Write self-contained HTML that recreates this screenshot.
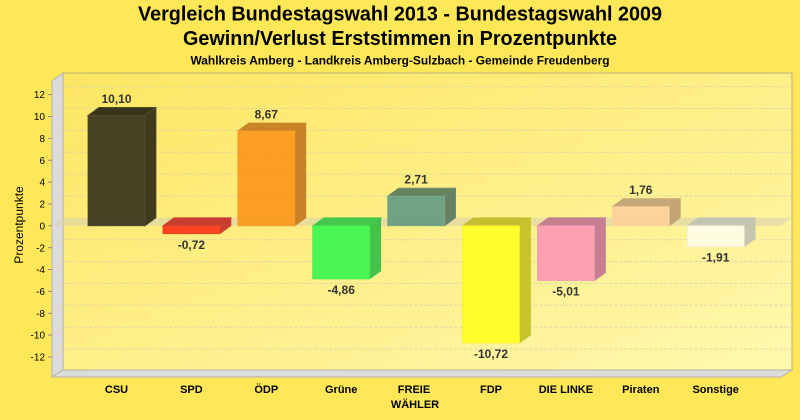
<!DOCTYPE html>
<html><head><meta charset="utf-8"><style>
html,body{margin:0;padding:0;background:#FFE858;}
svg{display:block;font-family:"Liberation Sans",Arial,sans-serif;}
</style></head><body>
<svg width="800" height="420" viewBox="0 0 800 420" xmlns="http://www.w3.org/2000/svg">
<defs>
<linearGradient id="bw" x1="0" y1="0" x2="1" y2="1">
<stop offset="0" stop-color="#FDE662"/>
<stop offset="1" stop-color="#FFF8AE"/>
</linearGradient>
</defs>
<rect width="800" height="420" fill="#FFE858"/>
<text x="400" y="20.5" text-anchor="middle" font-size="20" font-weight="bold" fill="#000" textLength="524" lengthAdjust="spacingAndGlyphs">Vergleich Bundestagswahl 2013 - Bundestagswahl 2009</text>
<text x="400" y="45" text-anchor="middle" font-size="20" font-weight="bold" fill="#000" textLength="434" lengthAdjust="spacingAndGlyphs">Gewinn/Verlust Erststimmen in Prozentpunkte</text>
<text x="400" y="64.5" text-anchor="middle" font-size="12" font-weight="bold" fill="#000" textLength="419" lengthAdjust="spacingAndGlyphs">Wahlkreis Amberg - Landkreis Amberg-Sulzbach - Gemeinde Freudenberg</text>

<!-- back wall -->
<rect x="63" y="73" width="729" height="297" fill="url(#bw)" stroke="#B8B07C" stroke-width="1"/>
<!-- side wall -->
<polygon points="52,81 63,73 63,370 52,377" fill="#DCDCDC" stroke="#B0B0B0" stroke-width="1"/>
<!-- floor -->
<polygon points="52,377 63,370 792,370 781,377" fill="#DCDCDC" stroke="#B8B0A0" stroke-width="1"/>

<!-- gridlines -->
<g stroke="#DCD5A8" stroke-width="1" stroke-dasharray="3,2" fill="none">
<path d="M52,94.6 L63,86.6 L792,86.6"/>
<path d="M52,116.5 L63,108.5 L792,108.5"/>
<path d="M52,138.4 L63,130.4 L792,130.4"/>
<path d="M52,160.2 L63,152.2 L792,152.2"/>
<path d="M52,182.1 L63,174.1 L792,174.1"/>
<path d="M52,204 L63,196 L792,196"/>
<path d="M52,247.7 L63,239.7 L792,239.7"/>
<path d="M52,269.5 L63,261.5 L792,261.5"/>
<path d="M52,291.4 L63,283.4 L792,283.4"/>
<path d="M52,313.2 L63,305.2 L792,305.2"/>
<path d="M52,335.1 L63,327.1 L792,327.1"/>
<path d="M52,357 L63,349 L792,349"/>
</g>

<!-- zero plane -->
<polygon points="52,225.8 63,217.8 792,217.8 781,225.8" fill="#D8D2B0" fill-opacity="0.6"/>

<!-- y ticks -->
<g stroke="#888" stroke-width="1">
<line x1="48" y1="94.6" x2="52" y2="94.6"/><line x1="48" y1="116.5" x2="52" y2="116.5"/>
<line x1="48" y1="138.4" x2="52" y2="138.4"/><line x1="48" y1="160.2" x2="52" y2="160.2"/>
<line x1="48" y1="182.1" x2="52" y2="182.1"/><line x1="48" y1="204" x2="52" y2="204"/>
<line x1="48" y1="225.8" x2="52" y2="225.8"/><line x1="48" y1="247.7" x2="52" y2="247.7"/>
<line x1="48" y1="269.5" x2="52" y2="269.5"/><line x1="48" y1="291.4" x2="52" y2="291.4"/>
<line x1="48" y1="313.2" x2="52" y2="313.2"/><line x1="48" y1="335.1" x2="52" y2="335.1"/>
<line x1="48" y1="357" x2="52" y2="357"/>
</g>
<g font-size="10" fill="#000" text-anchor="end">
<text x="45" y="98.2">12</text><text x="45" y="120.1">10</text>
<text x="45" y="142">8</text><text x="45" y="163.8">6</text>
<text x="45" y="185.7">4</text><text x="45" y="207.6">2</text>
<text x="45" y="229.4">0</text><text x="45" y="251.3">-2</text>
<text x="45" y="273.1">-4</text><text x="45" y="295">-6</text>
<text x="45" y="316.8">-8</text><text x="45" y="338.7">-10</text>
<text x="45" y="360.6">-12</text>
</g>
<text transform="translate(23,225) rotate(-90)" text-anchor="middle" font-size="12" fill="#000">Prozentpunkte</text>

<!-- bars -->
<g stroke-width="0.8" opacity="0.95">
<!-- CSU 10.10 -->
<polygon points="88,115.4 99,107.4 156,107.4 145,115.4" fill="#2F2B16" stroke="#4A4428"/>
<polygon points="145,115.4 156,107.4 156,217.8 145,225.8" fill="#363118" stroke="#4A4428"/>
<rect x="88" y="115.4" width="57" height="110.4" fill="#3F3A1F" stroke="#4A4428"/>
<!-- SPD -0.72 -->
<polygon points="162.9,225.8 173.9,217.8 230.9,217.8 219.9,225.8" fill="#C8372A" stroke="#C8372A"/>
<polygon points="219.9,225.8 230.9,217.8 230.9,225.7 219.9,233.7" fill="#C8372A" stroke="#C8372A"/>
<rect x="162.9" y="225.8" width="57" height="7.9" fill="#FF3B1E" stroke="#E8401E"/>
<!-- ÖDP 8.67 -->
<polygon points="237.8,131 248.8,123 305.8,123 294.8,131" fill="#C87F22" stroke="#C88028"/>
<polygon points="294.8,131 305.8,123 305.8,217.8 294.8,225.8" fill="#C47C22" stroke="#C88028"/>
<rect x="237.8" y="131" width="57" height="94.8" fill="#FB9A1E" stroke="#F0A030"/>
<!-- Grüne -4.86 -->
<polygon points="312.7,225.8 323.7,217.8 380.7,217.8 369.7,225.8" fill="#3CC848" stroke="#3CC848"/>
<polygon points="369.7,225.8 380.7,217.8 380.7,270.9 369.7,278.9" fill="#3CC046" stroke="#3CC046"/>
<rect x="312.7" y="225.8" width="57" height="53.1" fill="#40F750" stroke="#40E850"/>
<!-- FREIE 2.71 -->
<polygon points="387.6,196.2 398.6,188.2 455.6,188.2 444.6,196.2" fill="#5E7D60" stroke="#6A8A6A"/>
<polygon points="444.6,196.2 455.6,188.2 455.6,217.8 444.6,225.8" fill="#5E7D62" stroke="#6A8A6A"/>
<rect x="387.6" y="196.2" width="57" height="29.6" fill="#6A9E84" stroke="#7AA88A"/>
<!-- FDP -10.72 -->
<polygon points="462.5,225.8 473.5,217.8 530.5,217.8 519.5,225.8" fill="#C2BE2A" stroke="#C2BE2A"/>
<polygon points="519.5,225.8 530.5,217.8 530.5,335 519.5,343" fill="#C8C226" stroke="#C8C226"/>
<rect x="462.5" y="225.8" width="57" height="117.2" fill="#FFFF28" stroke="#F0F030"/>
<!-- DIE LINKE -5.01 -->
<polygon points="537.4,225.8 548.4,217.8 605.4,217.8 594.4,225.8" fill="#C47890" stroke="#C47890"/>
<polygon points="594.4,225.8 605.4,217.8 605.4,272.6 594.4,280.6" fill="#C47890" stroke="#C47890"/>
<rect x="537.4" y="225.8" width="57" height="54.8" fill="#FF9BB4" stroke="#F0A0B8"/>
<!-- Piraten 1.76 -->
<polygon points="612.3,206.6 623.3,198.6 680.3,198.6 669.3,206.6" fill="#C4A478" stroke="#C4A478"/>
<polygon points="669.3,206.6 680.3,198.6 680.3,217.8 669.3,225.8" fill="#C0A074" stroke="#C4A478"/>
<rect x="612.3" y="206.6" width="57" height="19.2" fill="#FFD29A" stroke="#F5D0A0"/>
<!-- Sonstige -1.91 -->
<polygon points="687.2,225.8 698.2,217.8 755.2,217.8 744.2,225.8" fill="#C4C4B4" stroke="#C4C4B4"/>
<polygon points="744.2,225.8 755.2,217.8 755.2,238.7 744.2,246.7" fill="#C4C4B0" stroke="#C4C4B0"/>
<rect x="687.2" y="225.8" width="57" height="20.9" fill="#FFFDE4" stroke="#F0F0D8"/>
</g>

<!-- value labels -->
<g font-size="12" font-weight="bold" fill="#333" text-anchor="middle">
<text x="116.5" y="103">10,10</text>
<text x="191.4" y="249">-0,72</text>
<text x="266.3" y="118.5">8,67</text>
<text x="341.2" y="294">-4,86</text>
<text x="416.1" y="183.7">2,71</text>
<text x="491" y="358">-10,72</text>
<text x="565.9" y="295.6">-5,01</text>
<text x="640.8" y="194.1">1,76</text>
<text x="715.7" y="261.7">-1,91</text>
</g>

<!-- x labels -->
<g font-size="11" font-weight="bold" fill="#000" text-anchor="middle">
<text x="116.5" y="393">CSU</text>
<text x="191.4" y="393">SPD</text>
<text x="266.3" y="393">ÖDP</text>
<text x="341.2" y="393">Grüne</text>
<text x="414" y="393">FREIE</text>
<text x="415" y="408">WÄHLER</text>
<text x="491" y="393">FDP</text>
<text x="565.9" y="393">DIE LINKE</text>
<text x="640.8" y="393">Piraten</text>
<text x="715.7" y="393">Sonstige</text>
</g>
</svg>
</body></html>
